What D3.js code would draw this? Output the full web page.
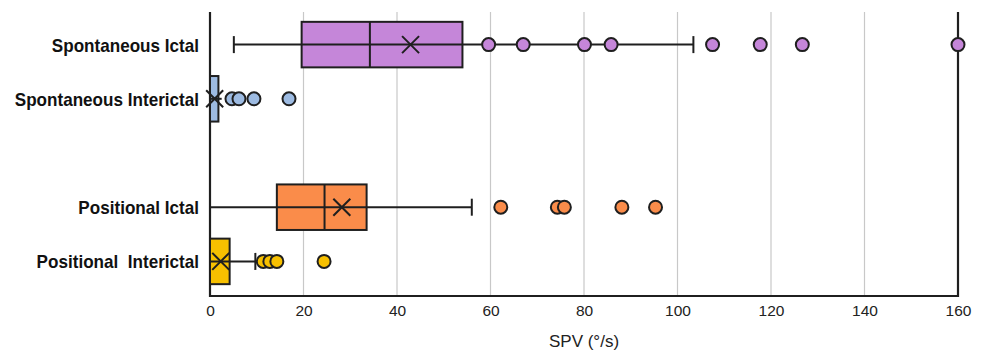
<!DOCTYPE html>
<html>
<head>
<meta charset="utf-8">
<script src="https://cdn.jsdelivr.net/npm/d3@7"></script>
<style>
  html, body { margin: 0; padding: 0; background: #fff; }
  svg { display: block; }
</style>
</head>
<body>
<script>
// ---- data ----
const categories = ["Spontaneous Ictal", "Spontaneous Interictal", "Positional Ictal", "Positional  Interictal"];
const colors = ["#C586D9", "#9DBBE2", "#FA8C4A", "#F7C000"];
const whiskerLow  = [5.1, 0, 0, 0];
const q1          = [19.6, 0, 14.3, 0];
const median      = [34.2, 0, 24.5, 0];
const q3          = [54.0, 1.8, 33.5, 4.2];
const whiskerHigh = [103.4, 2.5, 56.0, 9.7];
const means       = [42.9, 1.0, 28.2, 2.3];
const points = [
  [59.6, 67.0, 80.1, 85.8, 107.5, 117.7, 126.7, 160],
  [4.7, 6.2, 9.4, 16.9],
  [62.2, 74.3, 75.8, 88.1, 95.3],
  [11.4, 12.8, 14.3, 24.4]
];
const xTicks = [0, 20, 40, 60, 80, 100, 120, 140, 160];
const xTitle = "SPV (°/s)";

// ---- layout ----
const W = 984, H = 353;
const pL = 210, pR = 958, pT = 12, pB = 296;
const svg = d3.select("body").append("svg").attr("width", W).attr("height", H);
svg.append("rect").attr("width", W).attr("height", H).attr("fill", "#fff");

const x = d3.scaleLinear().domain([0, 160]).range([pL, pR]);
const yDomain = [categories[0], categories[1], "__gap__", categories[2], categories[3]];
const y = d3.scaleBand().domain(yDomain).range([pT - 1, pB - 1]).paddingInner(0.16).paddingOuter(0.2);

// gridlines
svg.append("g").selectAll("line").data(xTicks.filter(t => t > 0 && t < 160)).join("line")
  .attr("x1", d => x(d)).attr("x2", d => x(d))
  .attr("y1", pT).attr("y2", pB)
  .attr("stroke", "#c8c8c8").attr("stroke-width", 1.2);

// axis frame
const ax = svg.append("g").attr("stroke", "#1f1f1f").attr("stroke-width", 2.2);
ax.append("line").attr("x1", x(0)).attr("x2", x(0)).attr("y1", pT).attr("y2", pB + 1);
ax.append("line").attr("x1", x(160)).attr("x2", x(160)).attr("y1", pT).attr("y2", pB + 1);
ax.append("line").attr("x1", x(0) - 1).attr("x2", x(160) + 1).attr("y1", pB).attr("y2", pB);

// x axis tick labels via d3 axis
const xAxis = svg.append("g").attr("transform", `translate(0,${pB})`)
  .call(d3.axisBottom(x).tickValues(xTicks).tickSize(0).tickPadding(9).tickFormat(d3.format("d")));
xAxis.select(".domain").remove();
xAxis.selectAll("text").attr("font-family", "Liberation Sans, Arial, sans-serif")
  .attr("font-size", 15.5).attr("fill", "#222");

svg.append("text").attr("x", (pL + pR) / 2).attr("y", 347)
  .attr("text-anchor", "middle").attr("font-family", "Liberation Sans, Arial, sans-serif")
  .attr("font-size", 17).attr("fill", "#222").text(xTitle);

// y labels
categories.forEach((c, i) => {
  const cy = y(c) + y.bandwidth() / 2;
  svg.append("text")
    .attr("transform", `translate(199,${cy + 7}) scale(0.95,1)`)
    .attr("text-anchor", "end")
    .attr("font-family", "Liberation Sans, Arial, sans-serif")
    .attr("font-weight", "bold").attr("font-size", 18).attr("fill", "#111")
    .style("white-space", "pre")
    .text(c);
});

// boxes
const stroke = "#1f1f1f";
categories.forEach((c, i) => {
  const g = svg.append("g");
  const y0 = y(c), bh = y.bandwidth(), cy = y0 + bh / 2;
  g.append("rect").attr("x", x(q1[i])).attr("y", y0)
    .attr("width", Math.max(0, x(q3[i]) - x(q1[i]))).attr("height", bh)
    .attr("fill", colors[i]).attr("stroke", stroke).attr("stroke-width", 2);
  g.append("line").attr("x1", x(median[i])).attr("x2", x(median[i]))
    .attr("y1", y0).attr("y2", y0 + bh).attr("stroke", stroke).attr("stroke-width", 2);
  g.append("line").attr("x1", x(whiskerLow[i])).attr("x2", x(whiskerHigh[i]))
    .attr("y1", cy).attr("y2", cy).attr("stroke", stroke).attr("stroke-width", 2);
  [whiskerLow[i], whiskerHigh[i]].forEach(v => {
    if (v > 3) g.append("line").attr("x1", x(v)).attr("x2", x(v))
      .attr("y1", cy - 8.5).attr("y2", cy + 8.5).attr("stroke", stroke).attr("stroke-width", 2);
  });
  const mx = x(means[i]), s = 8.5;
  g.append("path").attr("d", `M${mx - s},${cy - s}L${mx + s},${cy + s}M${mx - s},${cy + s}L${mx + s},${cy - s}`)
    .attr("stroke", stroke).attr("stroke-width", 2).attr("fill", "none");
  g.selectAll("circle").data(points[i]).join("circle")
    .attr("cx", d => x(d)).attr("cy", cy).attr("r", 6.5)
    .attr("fill", colors[i]).attr("stroke", stroke).attr("stroke-width", 2);
});
</script>
</body>
</html>
